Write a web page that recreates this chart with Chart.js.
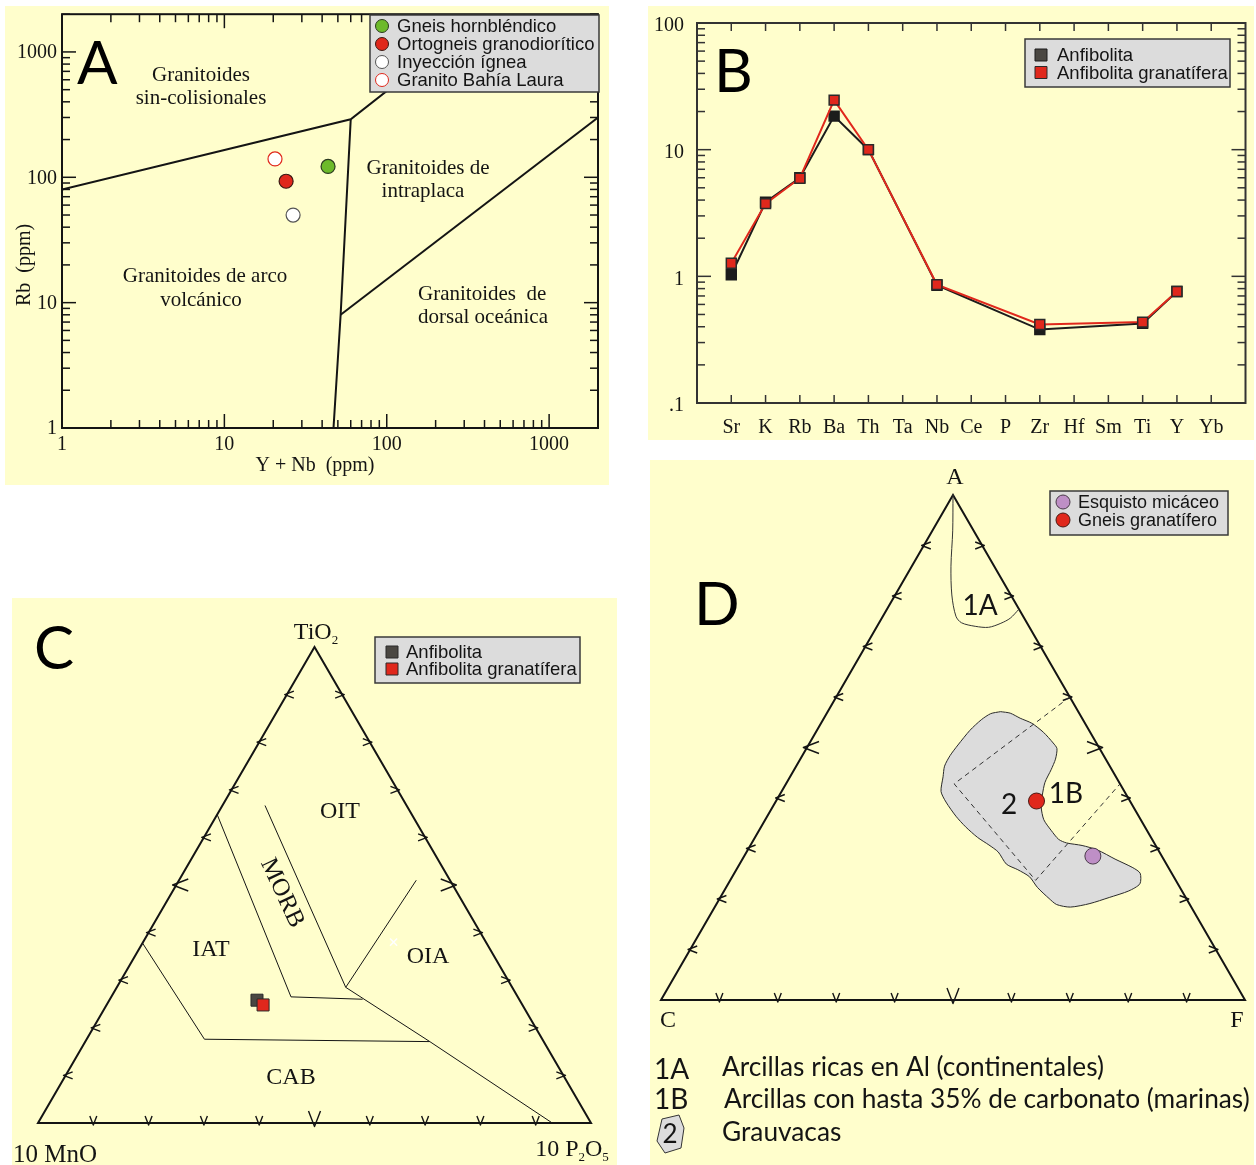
<!DOCTYPE html>
<html lang="es">
<head>
<meta charset="utf-8">
<title>Diagramas geoquímicos</title>
<script src="https://cdn.jsdelivr.net/npm/chart.js@4.4.1/dist/chart.umd.min.js"></script>
<style>
html,body{margin:0;padding:0;background:#fff}
body{position:relative;width:1256px;height:1165px;overflow:hidden}
.panel{position:absolute;background:#FFFECC}
.panel canvas{position:absolute;left:0;top:0}
</style>
</head>
<body>
<div class="panel" style="left:5px;top:6px;width:604px;height:479px"><canvas id="chartA" width="604" height="479"></canvas></div>
<div class="panel" style="left:648px;top:6px;width:606px;height:434px"><canvas id="chartB" width="606" height="434"></canvas></div>
<div class="panel" style="left:12px;top:598px;width:605px;height:567px"><canvas id="chartC" width="605" height="567"></canvas></div>
<div class="panel" style="left:650px;top:460px;width:604px;height:705px"><canvas id="chartD" width="604" height="705"></canvas></div>
<script>
// ---------- A: Rb vs Y+Nb (ppm) ----------
const ynbTickValues = [1, 10, 100, 1000];
const rbTickValues = [1, 10, 100, 1000];
const seriesA = ['Gneis hornbléndico', 'Ortogneis granodiorítico', 'Inyección ígnea', 'Granito Bahía Laura'];
const ynbA = [43.5, 24, 26.5, 20.5];
const rbA = [122, 93, 50, 140];
const limSinColisional = [[1, 80], [60, 290], [400, 2000]];
const limArcoIntraplaca = [[47, 1], [52, 8], [60, 290]];
const limIntraplacaDorsal = [[52, 8], [2000, 300]];

// ---------- B: diagrama multielemental normalizado ----------
const elementos = ['Sr', 'K', 'Rb', 'Ba', 'Th', 'Ta', 'Nb', 'Ce', 'P', 'Zr', 'Hf', 'Sm', 'Ti', 'Y', 'Yb'];
const anfibolitaB = [1.03, 3.85, 6.0, 18.4, 10.0, null, 0.85, null, null, 0.38, null, null, 0.425, 0.76, null];
const anfibolitaGranatiferaB = [1.27, 3.75, 5.95, 24.6, 10.0, null, 0.86, null, null, 0.417, null, null, 0.435, 0.76, null];
const normTickValues = [0.1, 1, 10, 100];
const normTickLabels = ['.1', '1', '10', '100'];

// ---------- C: TiO2 - 10 MnO - 10 P2O5 (%) ----------
const anfibolitaC = [25.8, 47.5, 26.7];
const anfibolitaGranatiferaC = [24.8, 46.9, 28.3];
const marcaC = [38.0, 16.7, 45.3];
const limIatMorb = [[64.8, 35.2, 0], [26.5, 41.0, 32.5], [26.0, 28.3, 45.7]];
const limMorbOit = [[66.7, 25.6, 7.7], [28.5, 30.1, 41.4]];
const limOitOia = [[51.0, 6.1, 42.9], [28.5, 30.1, 41.4]];
const limOiaCab = [[28.5, 30.1, 41.4], [17.1, 20.6, 62.3], [0, 7.0, 93.0]];
const limIatCab = [[37.8, 62.2, 0], [17.6, 61.1, 21.3], [17.1, 20.6, 62.3]];

// ---------- D: A - C - F, pares [A %, F %] (C = 100 - A - F) ----------
const esquistoD = [[28.5, 59.7]];
const gneisD = [[39.4, 44.6]];
const campo1A = [[100, 0], [92.9, 3.5], [85.9, 6.7], [80.2, 9.7], [76.0, 12.5], [74.7, 14.1],
  [74.0, 16.8], [73.8, 19.2], [74.6, 20.9], [75.6, 22.0], [77.4, 22.6]];
const campo1B = [[60.0, 40.0], [42.8, 28.8], [23.7, 52.3], [42.8, 57.2]];
const campoGrauvacas = [[57.1, 29.6], [56.8, 31.4], [55.8, 33.6], [54.8, 36.1], [53.0, 39.0], [50.9, 41.7],
  [49.8, 42.9], [47.7, 43.7], [45.6, 44.0], [43.1, 44.2], [40.6, 45.0], [38.2, 46.0], [35.7, 47.7],
  [33.6, 50.0], [31.8, 52.2], [31.1, 53.9], [30.6, 56.8], [29.7, 59.9], [27.9, 63.8], [26.2, 67.7],
  [25.1, 69.5], [23.0, 70.5], [21.6, 69.3], [20.3, 66.6], [19.1, 63.9], [18.4, 60.9], [18.9, 58.3],
  [20.1, 56.4], [22.3, 53.3], [24.4, 50.9], [25.8, 48.2], [26.9, 45.7], [29.3, 43.1], [30.7, 40.8],
  [32.2, 38.1], [34.3, 35.0], [36.4, 32.3], [39.2, 29.2], [41.3, 27.3], [44.2, 26.2], [46.3, 25.4],
  [48.4, 25.3], [50.5, 25.6], [53.4, 26.2], [55.5, 27.1], [56.7, 28.1]];

// ---------- utilidades de dibujo ----------
const SERIF = '"Liberation Serif", "Times New Roman", serif';
const SANS = '"Liberation Sans", Arial, sans-serif';
const GEO = 'Lato, "Open Sans", sans-serif';
const INK = '#141414';
const RED = '#E0281C';
const H = Math.sqrt(3) / 2;

function seg(ctx, x1, y1, x2, y2) { ctx.beginPath(); ctx.moveTo(x1, y1); ctx.lineTo(x2, y2); ctx.stroke(); }
function text(ctx, s, x, y, font, align, base) {
  ctx.font = font; ctx.textAlign = align || 'left'; ctx.textBaseline = base || 'middle';
  ctx.fillStyle = INK; ctx.fillText(s, x, y);
}
// texto con subíndices: partes [texto, esSubíndice]
function chem(ctx, parts, cx, cy, size) {
  const big = size + 'px ' + SERIF, small = Math.round(size * 0.55) + 'px ' + SERIF;
  let w = 0;
  parts.forEach(p => { ctx.font = p[1] ? small : big; w += ctx.measureText(p[0]).width; });
  let x = cx - w / 2;
  ctx.textAlign = 'left'; ctx.textBaseline = 'alphabetic'; ctx.fillStyle = INK;
  parts.forEach(p => {
    ctx.font = p[1] ? small : big;
    ctx.fillText(p[0], x, p[1] ? cy + size * 0.22 : cy);
    x += ctx.measureText(p[0]).width;
  });
}
function logTickList(majors, min, max) {
  const out = [];
  majors.forEach(m => { for (let k = 1; k < 10; k++) { const v = m * k; if (v >= min && v <= max) out.push({v, major: k === 1}); } });
  return out;
}
function marker(ctx, style, x, y, r, fill, stroke, bw) {
  ctx.beginPath();
  if (style === 'rect') { const s = r; ctx.rect(x - s, y - s, 2 * s, 2 * s); }
  else ctx.arc(x, y, r, 0, Math.PI * 2);
  ctx.fillStyle = fill; ctx.fill();
  ctx.lineWidth = bw; ctx.strokeStyle = stroke; ctx.stroke();
}
function legendBox(ctx, chart, box, rows, fontSize) {
  ctx.save();
  ctx.fillStyle = '#DCDCDC'; ctx.fillRect(box.x, box.y, box.w, box.h);
  ctx.strokeStyle = '#3a3a3a'; ctx.lineWidth = 1.5; ctx.strokeRect(box.x, box.y, box.w, box.h);
  const items = chart.data.datasets.filter(d => d.label);
  items.forEach((d, i) => {
    const y = rows.y0 + i * rows.dy;
    const style = d.pointStyle === 'rect' ? 'rect' : 'circle';
    marker(ctx, style, rows.mx, y, rows.mr, d.legendFill || d.pointBackgroundColor || d.backgroundColor,
      d.pointBorderColor || d.borderColor, 1);
    text(ctx, d.label, rows.tx, y + 1, fontSize + 'px ' + SANS, 'left', 'middle');
  });
  ctx.restore();
}
function bigLetter(ctx, s, x, y) {
  ctx.font = '60px ' + GEO; ctx.textAlign = 'left'; ctx.textBaseline = 'alphabetic';
  ctx.fillStyle = '#000'; ctx.fillText(s, x, y);
}
function ternXY(top, left, right) {
  const s = top + left + right;
  return {x: (right + top / 2) / s, y: top * H / s};
}
const toC = p => ternXY(p[0], p[1], p[2]);
const toD = p => ternXY(p[0], 100 - p[0] - p[1], p[1]);

function chevron(ctx, px, py, dir, s) {
  const w = s * 0.5, o = s * 0.3;
  ctx.beginPath();
  if (dir === 'left') { ctx.moveTo(px + s, py - w); ctx.lineTo(px - o, py); ctx.lineTo(px + s, py + w); }
  else if (dir === 'right') { ctx.moveTo(px - s, py - w); ctx.lineTo(px + o, py); ctx.lineTo(px - s, py + w); }
  else { ctx.moveTo(px - w, py - s); ctx.lineTo(px, py + o); ctx.lineTo(px + w, py - s); }
  ctx.stroke();
}
function ternaryFrame(chart) {
  const {ctx, scales: {x, y}} = chart;
  const P = (t, l, r) => { const q = ternXY(t, l, r); return [x.getPixelForValue(q.x), y.getPixelForValue(q.y)]; };
  const A = P(1, 0, 0), L = P(0, 1, 0), R = P(0, 0, 1);
  ctx.save();
  ctx.strokeStyle = INK; ctx.lineWidth = 2; ctx.lineJoin = 'miter';
  ctx.beginPath(); ctx.moveTo(L[0], L[1]); ctx.lineTo(A[0], A[1]); ctx.lineTo(R[0], R[1]); ctx.closePath(); ctx.stroke();
  ctx.lineWidth = 1.4; ctx.lineJoin = 'round';
  for (let i = 1; i < 10; i++) {
    const f = i / 10, s = i === 5 ? 12 : 7;
    let p = P(f, 1 - f, 0); chevron(ctx, p[0], p[1], 'left', s);
    p = P(f, 0, 1 - f); chevron(ctx, p[0], p[1], 'right', s);
    p = P(0, 1 - f, f); chevron(ctx, p[0], p[1], 'down', s);
  }
  ctx.restore();
}
const baseOptions = (padding) => ({
  responsive: false, animation: false, events: [],
  layout: {padding},
  plugins: {legend: {display: false}, tooltip: {enabled: false}}
});
function boundaryDataset(points, conv, extra) {
  return Object.assign({type: 'line', label: '', data: points.map(conv), borderColor: INK, borderWidth: 1,
    pointRadius: 0, fill: false, tension: 0, clip: false, order: 5}, extra || {});
}

// ---------- Panel A ----------
const stylesA = [
  {fill: '#6DBA2A', stroke: '#2b3a20'},
  {fill: RED, stroke: '#3a1a14'},
  {fill: '#FFFFFF', stroke: '#555555'},
  {fill: '#FFFFFF', stroke: RED}
];
const xyA = p => ({x: p[0], y: p[1]});
const decorA = {
  id: 'decorA',
  beforeDatasetsDraw(chart) {
    const ctx = chart.ctx, f = '21px ' + SERIF;
    ctx.save();
    text(ctx, 'Granitoides', 196, 69, f, 'center');
    text(ctx, 'sin-colisionales', 196, 92, f, 'center');
    text(ctx, 'Granitoides de', 423, 162, f, 'center');
    text(ctx, 'intraplaca', 418, 185, f, 'center');
    text(ctx, 'Granitoides de arco', 200, 270, f, 'center');
    text(ctx, 'volcánico', 196, 294, f, 'center');
    text(ctx, 'Granitoides  de', 413, 288, f, 'left');
    text(ctx, 'dorsal oceánica', 413, 311, f, 'left');
    ctx.restore();
  },
  afterDatasetsDraw(chart) {
    const {ctx, chartArea: ca, scales: {x, y}} = chart;
    ctx.save();
    ctx.strokeStyle = INK; ctx.lineWidth = 2;
    ctx.strokeRect(ca.left, ca.top, ca.right - ca.left, ca.bottom - ca.top);
    ctx.lineWidth = 1.5;
    logTickList(ynbTickValues, x.min, x.max).forEach(t => {
      const px = x.getPixelForValue(t.v), L = t.major ? 14 : 8;
      seg(ctx, px, ca.bottom, px, ca.bottom - L); seg(ctx, px, ca.top, px, ca.top + L);
    });
    logTickList(rbTickValues, y.min, y.max).forEach(t => {
      const py = y.getPixelForValue(t.v), L = t.major ? 14 : 8;
      seg(ctx, ca.left, py, ca.left + L, py); seg(ctx, ca.right, py, ca.right - L, py);
    });
    const tf = '20px ' + SERIF;
    ynbTickValues.forEach(v => text(ctx, String(v), x.getPixelForValue(v), ca.bottom + 17, tf, 'center'));
    rbTickValues.forEach(v => text(ctx, String(v), ca.left - 5, y.getPixelForValue(v) + 1, tf, 'right'));
    text(ctx, 'Y + Nb  (ppm)', 310, 460, '20px ' + SERIF, 'center');
    ctx.save(); ctx.translate(20, 259); ctx.rotate(-Math.PI / 2);
    text(ctx, 'Rb  (ppm)', 0, 0, '20px ' + SERIF, 'center'); ctx.restore();
    bigLetter(ctx, 'A', 72, 78);
    ctx.restore();
    legendBox(ctx, chart, {x: 365, y: 9, w: 229, h: 77}, {y0: 20, dy: 18, mx: 377, mr: 6.5, tx: 392}, 18.5);
  }
};
new Chart(document.getElementById('chartA'), {
  type: 'scatter',
  data: {
    datasets: [
      ...seriesA.map((name, i) => ({
        label: name, data: [{x: ynbA[i], y: rbA[i]}], pointRadius: 7, pointStyle: 'circle',
        backgroundColor: stylesA[i].fill, borderColor: stylesA[i].stroke, borderWidth: 1.2, order: 1
      })),
      boundaryDataset(limSinColisional, xyA, {borderWidth: 2, clip: true}),
      boundaryDataset(limArcoIntraplaca, xyA, {borderWidth: 2, clip: true}),
      boundaryDataset(limIntraplacaDorsal, xyA, {borderWidth: 2, clip: true})
    ]
  },
  options: Object.assign(baseOptions({left: 57, right: 11, top: 8, bottom: 57}), {
    scales: {
      x: {type: 'logarithmic', min: 1, max: 2000, display: false},
      y: {type: 'logarithmic', min: 1, max: 2000, display: false}
    }
  }),
  plugins: [decorA]
});

// ---------- Panel B ----------
const decorB = {
  id: 'decorB',
  afterDatasetsDraw(chart) {
    const {ctx, chartArea: ca, scales: {x, y}} = chart;
    ctx.save();
    ctx.strokeStyle = '#333'; ctx.lineWidth = 2;
    ctx.strokeRect(ca.left, ca.top, ca.right - ca.left, ca.bottom - ca.top);
    ctx.lineWidth = 1.5;
    logTickList(normTickValues, y.min, y.max).forEach(t => {
      const py = y.getPixelForValue(t.v), L = t.major ? 14 : 8;
      seg(ctx, ca.left, py, ca.left + L, py); seg(ctx, ca.right, py, ca.right - L, py);
    });
    const tf = '20px ' + SERIF;
    elementos.forEach((el, i) => {
      const px = x.getPixelForValue(i + 1);
      seg(ctx, px, ca.bottom, px, ca.bottom - 8); seg(ctx, px, ca.top, px, ca.top + 8);
      text(ctx, el, px, ca.bottom + 25, tf, 'center');
    });
    normTickValues.forEach((v, i) => text(ctx, normTickLabels[i], ca.left - 13, y.getPixelForValue(v) + 3, tf, 'right'));
    bigLetter(ctx, 'B', 66, 86);
    ctx.restore();
    legendBox(ctx, chart, {x: 377, y: 33, w: 205, h: 48}, {y0: 49, dy: 17.5, mx: 393, mr: 6, tx: 409}, 18.5);
  }
};
new Chart(document.getElementById('chartB'), {
  type: 'line',
  data: {
    labels: ['', ...elementos, ''],
    datasets: [
      {label: 'Anfibolita', data: [null, ...anfibolitaB, null], borderColor: '#1c1c1c', borderWidth: 2,
        pointStyle: 'rect', pointRadius: 7, pointBackgroundColor: '#1c1c1c', pointBorderColor: '#1c1c1c',
        legendFill: '#4a4742', pointBorderWidth: 1.5, spanGaps: true, tension: 0, order: 2},
      {label: 'Anfibolita granatífera', data: [null, ...anfibolitaGranatiferaB, null], borderColor: RED, borderWidth: 2,
        pointStyle: 'rect', pointRadius: 7, pointBackgroundColor: RED, pointBorderColor: '#2a2a2a',
        pointBorderWidth: 1.5, spanGaps: true, tension: 0, order: 1}
    ]
  },
  options: Object.assign(baseOptions({left: 49, right: 8, top: 17, bottom: 37}), {
    scales: {
      x: {type: 'category', offset: false, display: false},
      y: {type: 'logarithmic', min: 0.1, max: 100, display: false}
    }
  }),
  plugins: [decorB]
});

// ---------- Panel C ----------
const decorC = {
  id: 'decorC',
  beforeDatasetsDraw(chart) {
    const ctx = chart.ctx, f = '24px ' + SERIF;
    ternaryFrame(chart);
    ctx.save();
    text(ctx, 'OIT', 328, 214, f, 'center');
    text(ctx, 'IAT', 199, 352, f, 'center');
    text(ctx, 'OIA', 416, 359, f, 'center');
    text(ctx, 'CAB', 279, 480, f, 'center');
    ctx.save(); ctx.translate(270, 295); ctx.rotate(65 * Math.PI / 180);
    text(ctx, 'MORB', 0, 0, '25px ' + SERIF, 'center'); ctx.restore();
    chem(ctx, [['TiO', false], ['2', true]], 304, 41, 24);
    chem(ctx, [['10 MnO', false]], 43, 564, 25);
    chem(ctx, [['10 P', false], ['2', true], ['O', false], ['5', true]], 560, 558, 24);
    bigLetter(ctx, 'C', 22, 71);
    ctx.restore();
  },
  afterDatasetsDraw(chart) {
    legendBox(chart.ctx, chart, {x: 363, y: 39, w: 205, h: 46}, {y0: 54, dy: 17, mx: 380, mr: 6, tx: 394}, 18.5);
  }
};
new Chart(document.getElementById('chartC'), {
  type: 'scatter',
  data: {
    datasets: [
      boundaryDataset(limIatMorb, toC),
      boundaryDataset(limMorbOit, toC),
      boundaryDataset(limOitOia, toC),
      boundaryDataset(limOiaCab, toC),
      boundaryDataset(limIatCab, toC),
      {label: '', data: [toC(marcaC)], pointStyle: 'crossRot', pointRadius: 5, borderColor: '#FFFFFF',
        borderWidth: 1.5, clip: false, order: 4},
      {label: 'Anfibolita', data: [toC(anfibolitaC)], pointStyle: 'rect', pointRadius: 8.5,
        backgroundColor: '#4a4742', borderColor: '#2a2a2a', borderWidth: 1, clip: false, order: 2},
      {label: 'Anfibolita granatífera', data: [toC(anfibolitaGranatiferaC)], pointStyle: 'rect', pointRadius: 8.5,
        backgroundColor: RED, borderColor: '#2a2a2a', borderWidth: 1, clip: false, order: 1}
    ]
  },
  options: Object.assign(baseOptions({left: 26, right: 26, top: 49, bottom: 42}), {
    scales: {
      x: {type: 'linear', min: 0, max: 1, display: false},
      y: {type: 'linear', min: 0, max: H, display: false}
    }
  }),
  plugins: [decorC]
});

// ---------- Panel D ----------
const decorD = {
  id: 'decorD',
  beforeDatasetsDraw(chart) {
    const ctx = chart.ctx;
    ternaryFrame(chart);
    ctx.save();
    const vf = '24px ' + SERIF;
    text(ctx, 'A', 305, 18, vf, 'center');
    text(ctx, 'C', 18, 561, vf, 'center');
    text(ctx, 'F', 587, 561, vf, 'center');
    bigLetter(ctx, 'D', 44, 165);
    // clave de campos
    const kf = '28px ' + GEO;
    text(ctx, '1A', 4, 619, kf, 'left', 'alphabetic');
    text(ctx, '1B', 4, 649, kf, 'left', 'alphabetic');
    ctx.beginPath();
    ctx.moveTo(12, 659); ctx.lineTo(29, 655); ctx.lineTo(34, 668); ctx.lineTo(31, 688);
    ctx.lineTo(15, 693); ctx.lineTo(7, 681); ctx.closePath();
    ctx.fillStyle = '#DCDCDC'; ctx.fill(); ctx.strokeStyle = '#333'; ctx.lineWidth = 1; ctx.stroke();
    text(ctx, '2', 20, 683, '26px ' + GEO, 'center', 'alphabetic');
    ctx.font = '22px ' + GEO;
    const longest = 'Arcillas con hasta 35% de carbonato (marinas)';
    const ks = 22 * 526 / ctx.measureText(longest).width;
    const df = ks.toFixed(2) + 'px ' + GEO;
    text(ctx, 'Arcillas ricas en Al (continentales)', 72, 616, df, 'left', 'alphabetic');
    text(ctx, longest, 74, 648, df, 'left', 'alphabetic');
    text(ctx, 'Grauvacas', 72, 681, df, 'left', 'alphabetic');
    ctx.restore();
  },
  afterDatasetsDraw(chart) {
    const ctx = chart.ctx;
    ctx.save();
    const lf = '28px ' + GEO;
    text(ctx, '1A', 330, 146, lf, 'center');
    text(ctx, '1B', 416, 334, lf, 'center');
    text(ctx, '2', 359, 345, lf, 'center');
    ctx.restore();
    legendBox(ctx, chart, {x: 400, y: 31, w: 178, h: 44}, {y0: 42, dy: 18, mx: 413, mr: 7, tx: 428}, 18);
  }
};
new Chart(document.getElementById('chartD'), {
  type: 'scatter',
  data: {
    datasets: [
      boundaryDataset([...campoGrauvacas, campoGrauvacas[0]], toD,
        {fill: 'shape', backgroundColor: '#DCDCDC', borderColor: '#2a2a2a', tension: 0.25, order: 7}),
      boundaryDataset(campo1B, toD, {borderDash: [5, 4], borderColor: '#333', order: 6}),
      boundaryDataset(campo1A, toD, {borderColor: '#333', tension: 0.3, order: 6}),
      {label: 'Esquisto micáceo', data: esquistoD.map(toD), pointRadius: 8, backgroundColor: '#BE8FC6',
        borderColor: '#4a3a4a', borderWidth: 1, clip: false, order: 1},
      {label: 'Gneis granatífero', data: gneisD.map(toD), pointRadius: 8, backgroundColor: RED,
        borderColor: '#4a1a14', borderWidth: 1, clip: false, order: 1}
    ]
  },
  options: Object.assign(baseOptions({left: 11, right: 9, top: 35, bottom: 165}), {
    scales: {
      x: {type: 'linear', min: 0, max: 1, display: false},
      y: {type: 'linear', min: 0, max: H, display: false}
    }
  }),
  plugins: [decorD]
});
</script>
</body>
</html>
